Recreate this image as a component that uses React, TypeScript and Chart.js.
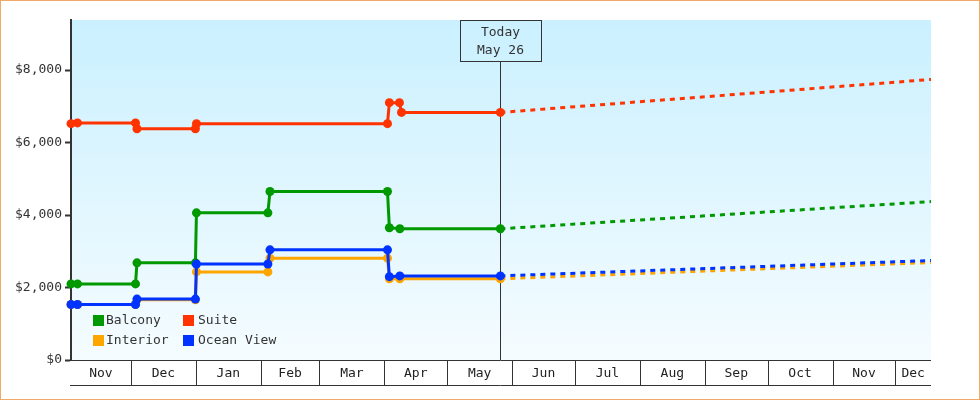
import React, { useRef, useEffect } from 'react';
import { Chart, registerables } from 'chart.js';

Chart.register(...registerables);

// x values are days counted from Nov 1
const days = [1.4, 4.5, 32.2, 32.9, 60.8, 61.3, 95.4, 96.4, 152.5, 153.4, 158.4, 206.4];
const suiteDays = [1.4, 4.5, 32.2, 32.9, 60.8, 61.3, 152.5, 153.4, 158.2, 159.2, 206.4];
const balcony = [2100, 2100, 2100, 2680, 2680, 4060, 4060, 4650, 4650, 3650, 3620, 3620];
const interior = [1530, 1530, 1530, 1660, 1660, 2430, 2430, 2810, 2810, 2240, 2240, 2240];
const oceanView = [1530, 1530, 1530, 1680, 1680, 2650, 2650, 3040, 3040, 2300, 2320, 2320];
const suite = [6520, 6540, 6540, 6380, 6380, 6520, 6520, 7100, 7100, 6830, 6830];

const todayDay = 206.4;
const endDay = 412;
const forecastEnd = { balcony: 4370, interior: 2690, oceanView: 2745, suite: 7740 };

const yTicks = [0, 2000, 4000, 6000, 8000];
const monthNames = ['Nov', 'Dec', 'Jan', 'Feb', 'Mar', 'Apr', 'May', 'Jun', 'Jul', 'Aug', 'Sep', 'Oct', 'Nov', 'Dec'];
const monthStarts = [1.4, 30, 61, 92, 120, 151, 181, 212, 242, 273, 304, 334, 365, 395, 412];

const todayLabel = ['Today', 'May 26'];
const legendRows = [
  [['Balcony', '#009900'], ['Suite', '#ff3300']],
  [['Interior', '#ffa500'], ['Ocean View', '#0033ff']],
];

const FONT = '"DejaVu Sans Mono", monospace';
const DARK = '#333333';

const toXY = (xs: number[], ys: number[]) => xs.map((x, i) => ({ x, y: ys[i] }));

const solid = (label: string, xs: number[], ys: number[], color: string, order: number) => ({
  label,
  data: toXY(xs, ys),
  borderColor: color,
  backgroundColor: color,
  borderWidth: 3,
  pointRadius: 4.5,
  pointHoverRadius: 4.5,
  pointBorderWidth: 0,
  clip: false,
  order,
});

const dashed = (label: string, start: number, end: number, color: string, order: number) => ({
  label: label + ' forecast',
  data: toXY([todayDay, endDay], [start, end]),
  borderColor: color,
  borderWidth: 3,
  borderDash: [5, 5],
  pointRadius: 0,
  clip: false,
  order,
});

const decorations = {
  id: 'decorations',
  beforeDatasetsDraw(chart: any) {
    const { ctx, chartArea, scales } = chart;
    const gradient = ctx.createLinearGradient(0, chartArea.top, 0, chartArea.bottom);
    gradient.addColorStop(0, '#caf0ff');
    gradient.addColorStop(1, '#f5fcff');
    ctx.save();
    ctx.globalCompositeOperation = 'destination-over';
    ctx.fillStyle = gradient;
    ctx.fillRect(chartArea.left, chartArea.top, chartArea.right - chartArea.left, chartArea.bottom - chartArea.top);
    ctx.restore();

    // month band under the plot
    const top = Math.round(chartArea.bottom) + 0.5;
    const bottom = top + 25;
    ctx.save();
    ctx.strokeStyle = DARK;
    ctx.lineWidth = 1;
    ctx.beginPath();
    ctx.moveTo(70, top);
    ctx.lineTo(chartArea.right, top);
    ctx.moveTo(70, bottom);
    ctx.lineTo(chartArea.right, bottom);
    monthStarts.slice(1, -1).forEach((d) => {
      const x = Math.round(scales.x.getPixelForValue(d)) + 0.5;
      ctx.moveTo(x, top);
      ctx.lineTo(x, bottom);
    });
    // today marker
    const tx = Math.round(scales.x.getPixelForValue(todayDay)) + 0.5;
    ctx.moveTo(tx, chartArea.top + 41);
    ctx.lineTo(tx, chartArea.bottom);
    ctx.stroke();
    ctx.strokeRect(tx - 40, chartArea.top + 0.5, 81, 41);
    ctx.fillStyle = DARK;
    ctx.font = '13px ' + FONT;
    ctx.textAlign = 'center';
    ctx.textBaseline = 'middle';
    ctx.fillText(todayLabel[0], tx, chartArea.top + 13);
    ctx.fillText(todayLabel[1], tx, chartArea.top + 31);
    ctx.restore();
  },
  afterDatasetsDraw(chart: any) {
    const { ctx } = chart;
    ctx.save();
    ctx.font = '13px ' + FONT;
    ctx.textAlign = 'left';
    ctx.textBaseline = 'middle';
    legendRows.forEach((row, r) => {
      row.forEach(([name, color], c) => {
        const x = 93 + c * 90;
        const y = 315 + r * 20;
        ctx.fillStyle = color;
        ctx.fillRect(x, y, 11, 11);
        ctx.fillStyle = DARK;
        ctx.fillText(name, x + 13 + c * 2, y + 6);
      });
    });
    ctx.restore();
  },
};

const App: React.FC = () => {
  const chartRef = useRef<HTMLCanvasElement | null>(null);

  useEffect(() => {
    document.body.style.margin = '0';
    const canvas = chartRef.current;
    if (!canvas) return;

    const chart = new Chart(canvas, {
      type: 'line',
      data: {
        datasets: [
          solid('Ocean View', days, oceanView, '#0033ff', 1),
          dashed('Ocean View', oceanView[11], forecastEnd.oceanView, '#0033ff', 2),
          solid('Interior', days, interior, '#ffa500', 3),
          dashed('Interior', interior[11], forecastEnd.interior, '#ffa500', 4),
          solid('Suite', suiteDays, suite, '#ff3300', 5),
          dashed('Suite', suite[10], forecastEnd.suite, '#ff3300', 6),
          solid('Balcony', days, balcony, '#009900', 7),
          dashed('Balcony', balcony[11], forecastEnd.balcony, '#009900', 8),
        ] as any,
      },
      options: {
        responsive: false,
        animation: false,
        layout: { padding: { top: 20, right: 49, bottom: 0, left: 0 } },
        plugins: { legend: { display: false }, tooltip: { enabled: false } },
        scales: {
          x: {
            type: 'linear',
            min: monthStarts[0],
            max: endDay,
            grid: { display: false, drawTicks: false },
            border: { display: false },
            afterFit: (scale: any) => {
              scale.height = 40;
            },
            afterBuildTicks: (scale: any) => {
              scale.ticks = monthNames.map((_, i) => ({ value: (monthStarts[i] + monthStarts[i + 1]) / 2 }));
            },
            ticks: {
              autoSkip: false,
              maxRotation: 0,
              padding: 6,
              color: '#222222',
              font: { family: FONT, size: 13 },
              callback: (_v: any, i: number) => monthNames[i],
            },
          },
          y: {
            min: 0,
            max: 9380,
            afterFit: (scale: any) => {
              scale.width = 71;
            },
            afterBuildTicks: (scale: any) => {
              scale.ticks = yTicks.map((value) => ({ value }));
            },
            border: { color: DARK, width: 2 },
            grid: { drawOnChartArea: false, color: DARK, tickColor: DARK, tickLength: 6, tickWidth: 2 },
            ticks: {
              padding: 3,
              color: DARK,
              font: { family: FONT, size: 13 },
              callback: (v: any) => '$' + Number(v).toLocaleString('en-US'),
            },
          },
        },
      },
      plugins: [decorations],
    } as any);

    return () => chart.destroy();
  }, []);

  return (
    <canvas
      ref={chartRef}
      width={980}
      height={400}
      style={{ display: 'block', background: '#ffffff', outline: '1px solid #eeaa66', outlineOffset: -1 }}
    />
  );
};

export default App;
